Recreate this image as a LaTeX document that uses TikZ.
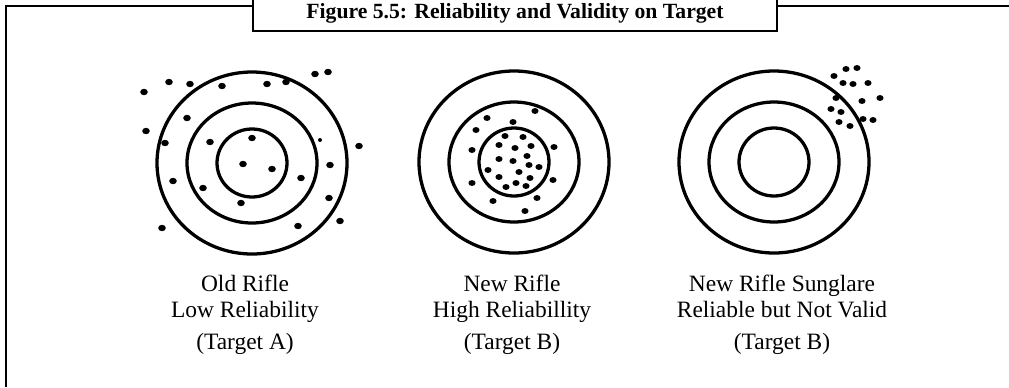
\documentclass[tikz,border=0pt]{standalone}
\usepackage{fontspec}
\setmainfont{Liberation Serif}
\usepackage{tikz}

\begin{document}
\begin{tikzpicture}[x=0.03cm,y=-0.03cm,
        frame/.style={line width=1.7pt},
        ring/.style={line width=2.8pt},
        caption/.style={align=center,anchor=north,inner sep=0pt,
                        font=\fontsize{20}{22}\selectfont}]
        \useasboundingbox (0,0) rectangle (1009,387);
        % outer frame and title box
        \draw[frame] (6,387) -- (6,6) -- (1009,6);
        \draw[frame,fill=white,line width=2.2pt] (253,-10) rectangle (777,31);
        \node[anchor=base,inner sep=0pt,font=\fontsize{18.5}{21}\selectfont\bfseries] (title) at (515,18)
             {Figure 5.5: Reliability and Validity on Target};
        % the three targets
        \foreach \cx/\cy in {252/163,514/162,774/162} {
            \draw[ring] (\cx,\cy) ellipse [x radius=95,y radius=91];
            \draw[ring] (\cx,\cy) ellipse [x radius=65,y radius=60];
            \draw[ring] (\cx,\cy) ellipse [x radius=35,y radius=34];
        }
        % shots on target A
        \foreach \x/\y in {144/92,169/82,190/84,222/86,267/84,286/82,315/74,328/72,
                146/131,187/118,165/143,210/142,252/138,359/146,243/164,272/169,
                330/165,301/178,173/181,203/188,241/203,329/198,162/228,298/226,340/221}
            \fill (\x,\y) ellipse [x radius=3.8,y radius=3.2];
        \fill (320,140) circle [radius=2];
        % shots on target B
        \foreach \x/\y in {535/111,487/118,513/122,476/130,505/136,523/137,499/145,
                515/148,531/146,554/147,472/150,499/159,513/161,527/156,529/165,
                539/167,488/170,519/172,499/177,530/178,472/183,516/183,506/187,
                526/186,553/180,537/198,493/201,525/211}
            \fill (\x,\y) ellipse [x radius=3.6,y radius=3];
        % shots on target C
        \foreach \x/\y in {834/76,846/69,857/68,843/83,853/84,868/83,836/98,862/101,
                880/98,831/109,841/112,839/122,850/126,863/119,873/120}
            \fill (\x,\y) ellipse [x radius=3.6,y radius=3];
        % captions
        \node[caption] (capA) at (245,275) {Old Rifle\\Low Reliability\\[5pt](Target A)};
        \node[caption] (capB) at (512,275) {New Rifle\\High Reliabillity\\[5pt](Target B)};
        \node[caption] (capC) at (782,275) {New Rifle Sunglare\\Reliable but Not Valid\\[5pt](Target B)};
\end{tikzpicture}
\end{document}
